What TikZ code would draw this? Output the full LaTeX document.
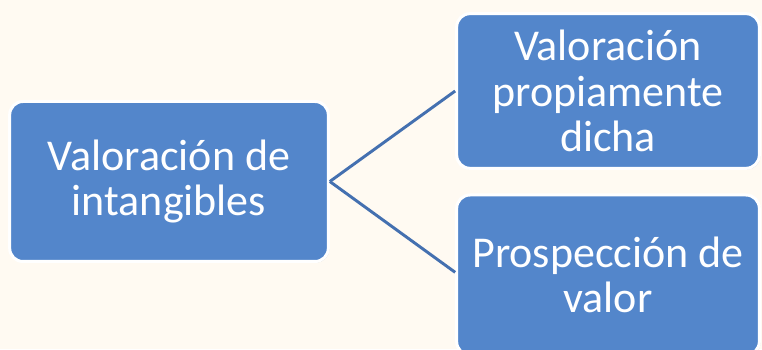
\documentclass[tikz,border=0pt]{standalone}
\usepackage{fontspec}
\setmainfont{Carlito}
\usetikzlibrary{shadows}
\definecolor{bgcream}{RGB}{255,250,242}
\definecolor{boxblue}{RGB}{83,134,203}
\definecolor{linkblue}{RGB}{68,112,176}
\tikzset{
  ideabox/.style={draw=white, line width=2.25pt, fill=boxblue, rounded corners=10pt,
    text=white, align=center, font=\fontsize{33}{34}\selectfont,
    drop shadow={shadow xshift=0.8pt, shadow yshift=-0.8pt, opacity=0.35, fill=gray}},
  link/.style={draw=linkblue, line width=2.2pt}
}
\begin{document}
\begin{tikzpicture}[x=0.75pt,y=0.75pt]
  \useasboundingbox (0,0) rectangle (762,349);
  \fill[bgcream] (0,0) rectangle (762,349);
  \clip (0,0) rectangle (762,349);
  \node[ideabox, minimum width=239pt, minimum height=120pt] (intang) at (169,167.5) {Valoración de\\intangibles};
  \node[ideabox, minimum width=227pt, minimum height=116pt] (propia) at (608,258) {Valoración\\propiamente\\dicha};
  \node[ideabox, minimum width=227pt, minimum height=120pt] (prosp) at (608,74) {Prospección de\\valor};
  % conectores
  \draw[link] (intang.east) -- (propia.west);
  \draw[link] (intang.east) -- ([yshift=2pt]prosp.west);
\end{tikzpicture}
\end{document}
